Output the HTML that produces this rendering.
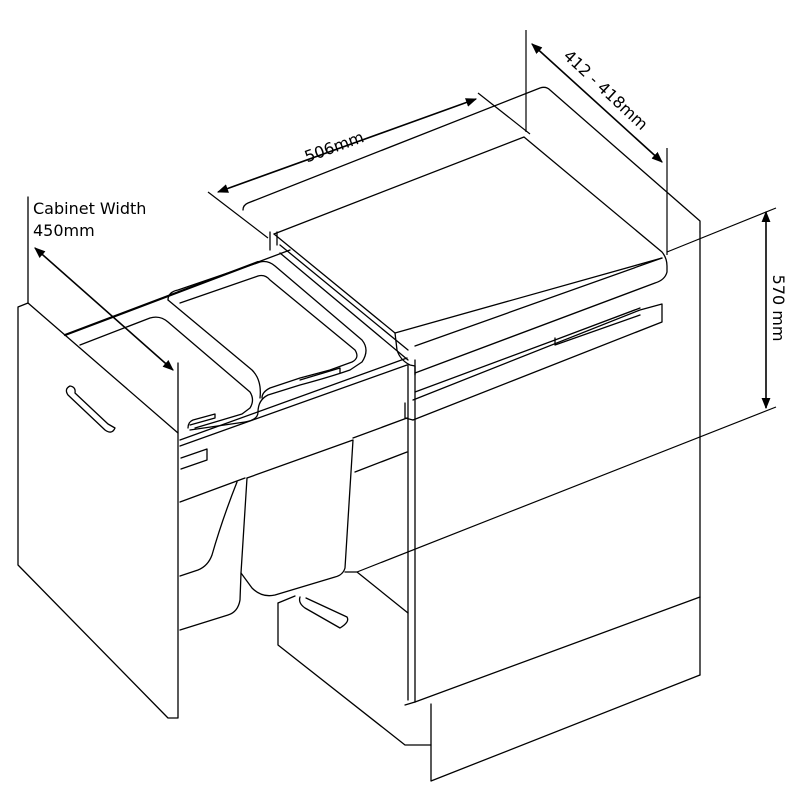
<!DOCTYPE html>
<html><head><meta charset="utf-8"><style>
html,body{margin:0;padding:0;background:#fff;}
svg{display:block;}
text{font-family:"DejaVu Sans","Liberation Sans",sans-serif;fill:#000;}
</style></head><body>
<svg width="800" height="800" viewBox="0 0 800 800" xmlns="http://www.w3.org/2000/svg">
<defs>
<marker id="a" viewBox="0 0 10 10" refX="9" refY="5" markerWidth="7" markerHeight="7" orient="auto-start-reverse"><path d="M0,1 L10,5 L0,9 z" fill="#000"/></marker>
</defs>
<g fill="none" stroke="#000" stroke-width="1.3" stroke-linejoin="round" stroke-linecap="round">
<path d="M243,210 Q243,205 248,203 L540,88 Q546,86 550,90 L700,221 L700,232"/>
<path d="M274,234 L524,137 M524,137 L662,252 Q667,258 667,266 L667,272 Q665,280 655,283 L415,373"/>
<path d="M274,234 L395,333 L662,258"/>
<path d="M395,333 L397,350 Q400,360 410,365 L415,366 L415,375"/>
<path d="M415,346 L662,258"/>
<path d="M413,400 L640,310 L662,304 L662,322 L413,420"/>
<path d="M415,392 L555,340 L640,308"/>
<path d="M555,338 L555,345 L640,315"/>
<path d="M405,403 L405,418 L413,420"/>
<path d="M408,365 L408,700 M415,360 L415,702"/>
<path d="M700,232 L700,675"/>
<path d="M415,702 L700,597"/>
<path d="M431,704 L431,781 L700,675"/>
<path d="M405,705 L415,702"/>
<path d="M270,232 L270,250 M277,232 L277,245"/>
<path d="M280,245 L408,350 M280,253 L408,360"/>
<path d="M65,335 L258,262" stroke-width="2.2"/>
<path d="M258,262 L290,250"/>
<path d="M80,345 L150,318 Q160,315 168,322 L250,392 Q255,400 250,408 L242,414 L195,428"/>
<path d="M168,300 Q168,292 178,290 L260,262 Q268,260 275,266 L362,340 Q370,350 362,362 L350,370 Q330,377 300,385 L268,395 Q258,400 258,412 Q258,420 245,422 L190,430"/>
<path d="M180,303 L258,276 Q265,274 270,280 L355,350 Q360,358 352,362 L330,370 L300,378 L270,388 Q262,392 262,398"/>
<path d="M168,300 L252,370 Q262,380 260,398"/>
<path d="M190,425 L215,418 L215,414 L193,420 Q188,422 188,428"/>
<path d="M300,380 L340,368 L340,373"/>
<path d="M180,440 L407,358"/>
<path d="M180,446 L407,365"/>
<path d="M180,502 L245,478"/>
<path d="M181,458 L207,449 L207,460 L181,469"/>
<path d="M353,438 L407,418"/>
<path d="M355,472 L407,452"/>
<path d="M237,482 Q222,520 212,555 Q208,566 198,570 L180,576"/>
<path d="M247,478 L241,573 L240,600 Q238,612 228,615 L180,630"/>
<path d="M247,478 L353,440 L345,568 Q343,575 335,577 L275,595 Q262,598 252,588 L241,573"/>
<path d="M278,603 L278,645 L405,745 L431,745"/>
<path d="M278,603 L295,596"/>
<path d="M345,572 L357,572 L408,613"/>
<path d="M300,597 Q298,603 305,608 L340,628 Q350,622 347,617 L306,598"/>
<path d="M18,307 L28,303 L178,433 L178,718 L168,718 L18,565 Z"/>
<path d="M28,303 L28,197"/>
<path d="M178,363 L178,433"/>
<path d="M70,386 Q64,389 68,395 L105,430 Q112,435 115,428 L108,424 L75,393 Q76,387 70,386"/>
</g>
<g fill="none" stroke="#000" stroke-width="1.6">
<line x1="35" y1="248" x2="173" y2="370" marker-start="url(#a)" marker-end="url(#a)"/>
<line x1="208" y1="192" x2="268" y2="238" stroke-width="1.2"/>
<line x1="218" y1="192" x2="476" y2="99" marker-start="url(#a)" marker-end="url(#a)"/>
<line x1="478" y1="93" x2="530" y2="134" stroke-width="1.2"/>
<line x1="526" y1="30" x2="526" y2="132" stroke-width="1.2"/>
<line x1="667" y1="148" x2="667" y2="255" stroke-width="1.2"/>
<line x1="532" y1="44" x2="662" y2="162" marker-start="url(#a)" marker-end="url(#a)"/>
<line x1="667" y1="252" x2="776" y2="208" stroke-width="1.2"/>
<line x1="357" y1="572" x2="776" y2="407" stroke-width="1.2"/>
<line x1="766" y1="212" x2="766" y2="408" marker-start="url(#a)" marker-end="url(#a)"/>
</g>
<text x="33" y="214" font-size="16">Cabinet Width</text>
<text x="33" y="236" font-size="16">450mm</text>
<text x="0" y="0" font-size="16" transform="translate(336,152) rotate(-20)" text-anchor="middle">506mm</text>
<text x="0" y="0" font-size="16" transform="translate(602,94) rotate(43)" text-anchor="middle">412 - 418mm</text>
<text x="0" y="0" font-size="16" transform="translate(773,308) rotate(90)" text-anchor="middle">570 mm</text>
</svg>
</body></html>
